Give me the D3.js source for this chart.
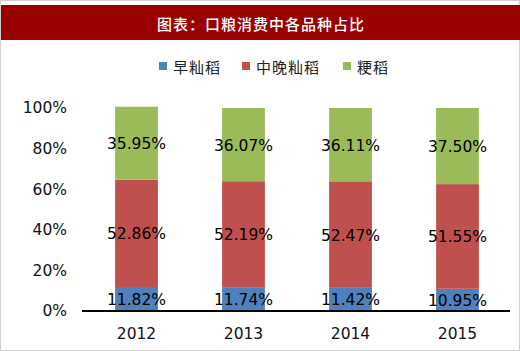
<!DOCTYPE html>
<html><head><meta charset="utf-8">
<script src="https://cdn.jsdelivr.net/npm/d3@7/dist/d3.min.js"></script>
<style>body{margin:0;background:#fff}svg{display:block}</style>
</head><body>
<script>
const title = "图表：口粮消费中各品种占比";
const years = ["2012","2013","2014","2015"];
const seriesNames = ["早籼稻","中晚籼稻","粳稻"];
const early = [11.82, 11.74, 11.42, 10.95];
const midLate = [52.86, 52.19, 52.47, 51.55];
const japonica = [35.95, 36.07, 36.11, 37.50];
const colors = ["#4F81BD","#C0504D","#9BBB59"];
const yTicks = [0,20,40,60,80,100];

const W=520,H=351;
const svg=d3.select("body").append("svg").attr("width",W).attr("height",H);
svg.append("rect").attr("x",0.5).attr("y",0.5).attr("width",W-1).attr("height",H-1).attr("fill","#fff").attr("stroke","#d0d0d0");
svg.append("rect").attr("x",1).attr("y",5).attr("width",W-1).attr("height",35).attr("fill","#990000");
svg.append("text").attr("x",261).attr("y",23).attr("text-anchor","middle").attr("dominant-baseline","central")
  .attr("fill","#fff").attr("font-family","Noto Sans CJK SC").attr("font-weight","500").attr("font-size",15)
  .attr("letter-spacing",1).text(title);

// legend
const legX=[159,242,343];
seriesNames.forEach((n,i)=>{
  svg.append("rect").attr("x",legX[i]).attr("y",62).attr("width",8).attr("height",8).attr("fill",colors[i]);
  svg.append("text").attr("x",legX[i]+14).attr("y",66).attr("dominant-baseline","central")
   .attr("font-family","Noto Sans CJK SC").attr("font-size",15).attr("letter-spacing",1).attr("fill","#222").text(n);
});

const x=d3.scaleBand().domain(years).range([83,511]).paddingInner(0.6).paddingOuter(0.3);
const y=d3.scaleLinear().domain([0,100]).range([311,108]);

const data=years.map((yr,i)=>({year:yr,early:early[i],midLate:midLate[i],japonica:japonica[i]}));
const stack=d3.stack().keys(["early","midLate","japonica"])(data);

stack.forEach((s,si)=>{
  svg.append("g").selectAll("rect").data(s).join("rect")
    .attr("x",d=>x(d.data.year)).attr("width",x.bandwidth())
    .attr("y",d=>y(d[1])).attr("height",d=>y(d[0])-y(d[1])).attr("fill",colors[si]);
});
stack.forEach((s,si)=>{
  svg.append("g").selectAll("text").data(s).join("text")
    .attr("x",d=>x(d.data.year)+x.bandwidth()/2).attr("y",d=>y((d[0]+d[1])/2)+1)
    .attr("text-anchor","middle").attr("dominant-baseline","central")
    .attr("font-family","DejaVu Sans").attr("font-size",15.5).attr("fill","#000")
    .text(d=>(d[1]-d[0]).toFixed(2)+"%");
});

// y axis labels
const ya=svg.append("g").attr("transform","translate(67,0)")
  .call(d3.axisLeft(y).tickValues(yTicks).tickSize(0).tickPadding(0).tickFormat(d=>d+"%"));
ya.select(".domain").remove();
ya.selectAll("text").attr("font-family","DejaVu Sans").attr("font-size",15.5).attr("fill","#111");

// x axis
const xa=svg.append("g").attr("transform","translate(0,311)")
  .call(d3.axisBottom(x).tickSize(0).tickPadding(17));
xa.select(".domain").attr("stroke","#000").attr("stroke-width",2).attr("d","M82,0H510");
xa.selectAll("text").attr("font-family","DejaVu Sans").attr("font-size",15.5).attr("fill","#111");
</script>
</body></html>
